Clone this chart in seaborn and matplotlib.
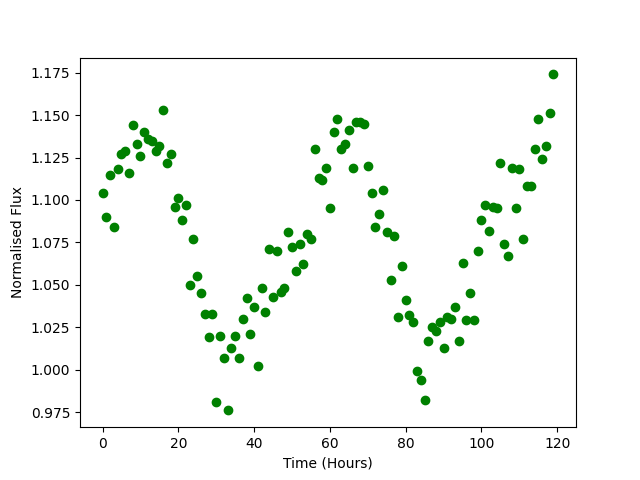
import numpy as np
import seaborn as sns
import matplotlib
matplotlib.use("Agg")
import matplotlib.pyplot as plt

hours = np.arange(120)
flux = [
    1.104, 1.090, 1.115, 1.084, 1.118, 1.127, 1.129, 1.116, 1.144, 1.133,
    1.126, 1.140, 1.136, 1.135, 1.129, 1.132, 1.153, 1.122, 1.127, 1.096,
    1.101, 1.088, 1.097, 1.050, 1.077, 1.055, 1.045, 1.033, 1.019, 1.033,
    0.981, 1.020, 1.007, 0.976, 1.013, 1.020, 1.007, 1.030, 1.042, 1.021,
    1.037, 1.002, 1.048, 1.034, 1.071, 1.043, 1.070, 1.046, 1.048, 1.081,
    1.072, 1.058, 1.074, 1.062, 1.080, 1.077, 1.130, 1.113, 1.112, 1.119,
    1.095, 1.140, 1.148, 1.130, 1.133, 1.141, 1.119, 1.146, 1.146, 1.145,
    1.120, 1.104, 1.084, 1.092, 1.106, 1.081, 1.053, 1.079, 1.031, 1.061,
    1.041, 1.032, 1.028, 0.999, 0.994, 0.982, 1.017, 1.025, 1.023, 1.028,
    1.013, 1.031, 1.030, 1.037, 1.017, 1.063, 1.029, 1.045, 1.029, 1.070,
    1.088, 1.097, 1.082, 1.096, 1.095, 1.122, 1.074, 1.067, 1.119, 1.095,
    1.118, 1.077, 1.108, 1.108, 1.130, 1.148, 1.124, 1.132, 1.151, 1.174,
]

fig, ax = plt.subplots(figsize=(6.4, 4.8), dpi=100)
sns.scatterplot(x=hours, y=flux, color="green", edgecolor="green",
                linewidth=1, s=36, ax=ax)
ax.set_xlabel("Time (Hours)")
ax.set_ylabel("Normalised Flux")
ax.set_xticks([0, 20, 40, 60, 80, 100, 120])
ax.set_yticks(np.arange(0.975, 1.176, 0.025))
fig.savefig("out.png")
